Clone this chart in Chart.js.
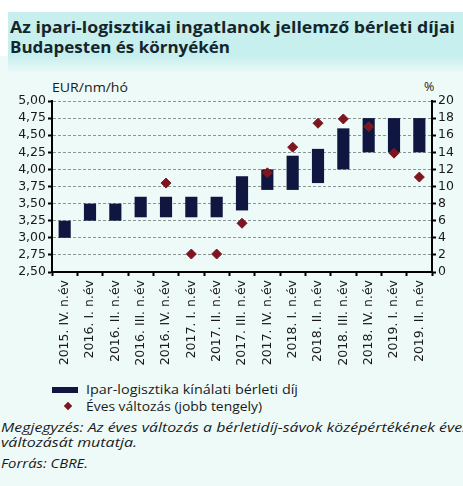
<!DOCTYPE html>
<html>
<head>
<meta charset="utf-8">
<script src="https://cdn.jsdelivr.net/npm/chart.js@4.4.0/dist/chart.umd.min.js"></script>
<style>
  html, body { margin: 0; padding: 0; }
  body { width: 463px; height: 486px; background: #fff; position: relative; overflow: hidden; font-family: "Open Sans", sans-serif; color: #1a1a1a; }
  .panel { position: absolute; left: 0; top: 56px; right: 0; bottom: 0; background: #eefaf8; }
  .head { position: absolute; left: 8px; top: 12px; right: 0; height: 62px;
          background: linear-gradient(#c6efee 0, #c6efee 44px, #eefaf8 62px); }
  .fit { position: absolute; white-space: nowrap; transform-origin: 0 0; }
  .title { font-weight: bold; font-size: 15.5px; color: #14252b; }
  .unit { font-size: 12.5px; }
  .leg { font-size: 12.5px; }
  .it { font-size: 12.5px; font-style: italic; }
  .wrap { position: absolute; left: 0; top: 62px; width: 463px; height: 310px; }
  .sw-bar { position: absolute; left: 52px; top: 387px; width: 26px; height: 6px; background: #0f1640; }
  .sw-dot { position: absolute; left: 65px; top: 403px; width: 6px; height: 6px; background: #7d1620; transform: rotate(45deg); }
</style>
</head>
<body>
<div class="panel"></div>
<div class="head"></div>
<div class="fit title" style="left:10px; top:16px;" data-w="445">Az ipari-logisztikai ingatlanok jellemző bérleti díjai</div>
<div class="fit title" style="left:10px; top:36px;" data-w="220">Budapesten és környékén</div>
<div class="fit unit" style="left:52px; top:79px;" data-w="76">EUR/nm/hó</div>
<div class="fit unit" style="left:424px; top:78px;">%</div>
<div class="wrap"><canvas id="c" width="463" height="310"></canvas></div>
<span class="sw-bar"></span>
<span class="sw-dot"></span>
<div class="fit leg" style="left:86px; top:381px;" data-w="212">Ipar-logisztika kínálati bérleti díj</div>
<div class="fit leg" style="left:86px; top:398px;" data-w="176">Éves változás (jobb tengely)</div>
<div class="fit it" style="left:1px; top:419px;" data-w="468">Megjegyzés: Az éves változás a bérletidíj-sávok középértékének éves</div>
<div class="fit it" style="left:1px; top:434px;" data-w="136">változását mutatja.</div>
<div class="fit it" style="left:1px; top:455px;" data-w="87">Forrás: CBRE.</div>
<script>
const categories = [
  '2015. IV. n.év', '2016. I. n.év', '2016. II. n.év', '2016. III. n.év', '2016. IV. n.év',
  '2017. I. n.év', '2017. II. n.év', '2017. III. n.év', '2017. IV. n.év', '2018. I. n.év',
  '2018. II. n.év', '2018. III. n.év', '2018. IV. n.év', '2019. I. n.év', '2019. II. n.év'
];
const rentLow  = [3.00, 3.25, 3.25, 3.30, 3.30, 3.30, 3.30, 3.40, 3.70, 3.70, 3.80, 4.00, 4.25, 4.25, 4.25];
const rentHigh = [3.25, 3.50, 3.50, 3.60, 3.60, 3.60, 3.60, 3.90, 4.00, 4.20, 4.30, 4.60, 4.75, 4.75, 4.75];
const yearlyChange = [null, null, null, null, 10.4, 2.1, 2.1, 5.7, 11.6, 14.6, 17.4, 17.9, 17.0, 13.9, 11.1];

// stretch the html texts to the widths seen in the picture
document.querySelectorAll('.fit[data-w]').forEach(el => {
  const w = el.getBoundingClientRect().width;
  el.style.transform = 'scaleX(' + (el.dataset.w / w) + ')';
});

const fnt = { family: '"DejaVu Sans", sans-serif', size: 12.5 };

new Chart(document.getElementById('c'), {
  type: 'bar',
  data: {
    labels: categories,
    datasets: [
      {
        type: 'line',
        label: 'Éves változás (jobb tengely)',
        data: yearlyChange,
        yAxisID: 'y1',
        showLine: false,
        pointStyle: 'rectRot',
        pointRadius: 5,
        pointBackgroundColor: '#7d1620',
        pointBorderColor: '#7d1620',
        order: 0
      },
      {
        label: 'Ipar-logisztika kínálati bérleti díj',
        data: rentLow.map((v, i) => [v, rentHigh[i]]),
        yAxisID: 'y',
        backgroundColor: '#0f1640',
        barPercentage: 0.48,
        categoryPercentage: 1,
        order: 1
      }
    ]
  },
  options: {
    responsive: false,
    animation: false,
    layout: { padding: { top: 39, bottom: 0, left: 0, right: 0 } },
    plugins: { legend: { display: false }, tooltip: { enabled: false } },
    scales: {
      x: {
        offset: true,
        grid: { offset: true, drawOnChartArea: false, color: '#000', tickLength: 4, tickWidth: 2 },
        border: { color: '#000', width: 2 },
        ticks: { font: { ...fnt, size: 12.5 }, color: '#1a1a1a', minRotation: 90, maxRotation: 90, padding: 4, autoSkip: false },
        afterFit: s => { s.height = 100; }
      },
      y: {
        position: 'left',
        min: 2.5, max: 5,
        ticks: { stepSize: 0.25, autoSkip: false, font: fnt, color: '#1a1a1a', padding: 2,
                 callback: v => v.toFixed(2).replace('.', ',') },
        grid: { drawOnChartArea: true, color: '#8a9595', lineWidth: 1,
                tickColor: '#000', tickLength: 4, tickWidth: 2, tickBorderDash: [0, 0] },
        border: { color: '#000', width: 2, dash: [3, 2] },
        afterFit: s => { s.width = 52; }
      },
      y1: {
        position: 'right',
        min: 0, max: 20,
        ticks: { stepSize: 2, autoSkip: false, font: fnt, color: '#1a1a1a', padding: 2 },
        grid: { drawOnChartArea: false, color: '#000', tickLength: 4, tickWidth: 2 },
        border: { color: '#000', width: 2 },
        afterFit: s => { s.width = 31; }
      }
    }
  }
});
</script>
</body>
</html>
